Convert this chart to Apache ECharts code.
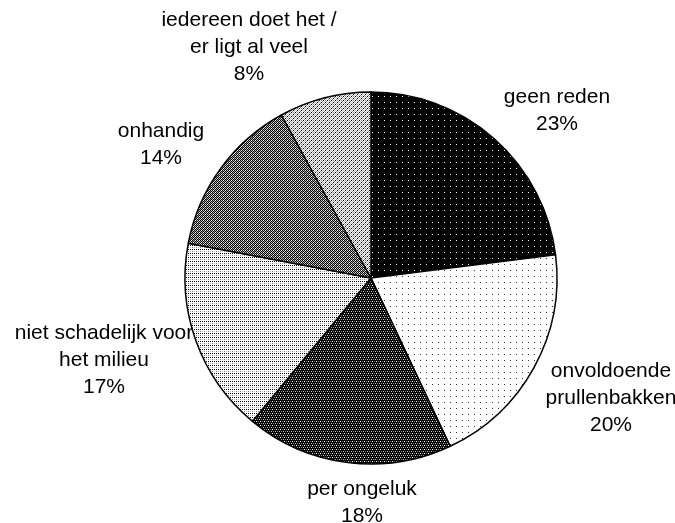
<!DOCTYPE html>
<html><head><meta charset="utf-8">
<script src="https://cdn.jsdelivr.net/npm/echarts@6/dist/echarts.min.js"></script>
<style>html,body{margin:0;padding:0;background:#fff}#c{width:675px;height:523px}</style>
</head><body><div id="c"></div>
<script>
const categories = ['geen reden', 'onvoldoende\nprullenbakken', 'per ongeluk', 'niet schadelijk voor\nhet milieu', 'onhandig', 'iedereen doet het /\ner ligt al veel'];
const values = [23, 20, 18, 17, 14, 8];

// label anchor positions (style, not data)
const labelPos = [[557, 111], [611, 398], [362, 503], [104, 360], [161, 145], [249, 47]];

function pattern(rows, palette) {
  const h = rows.length, w = rows[0].length;
  const cv = document.createElement('canvas');
  cv.width = w; cv.height = h;
  const ctx = cv.getContext('2d');
  for (let y = 0; y < h; y++) for (let x = 0; x < w; x++) {
    ctx.fillStyle = palette[rows[y][x]];
    ctx.fillRect(x, y, 1, 1);
  }
  return { image: cv, repeat: 'repeat' };
}
const pal = { K: '#000000', W: '#ffffff', G: '#808080', L: '#c0c0c0', D: '#303030' };
const patterns = [
  pattern(['WKKKKK', 'KKKKKK', 'KKKKKK', 'KKKKKK', 'KKKKKK', 'KKKKKK'], pal),
  pattern(['DWWWWW', 'WWWWWW', 'WWWWWW', 'WWWWWW', 'WWWWWW', 'WWWWWW'], pal),
  pattern(['KKKK', 'WKGK', 'KKKK', 'KGKL'], pal),
  pattern(['WWWW', 'KWKW', 'WWWW', 'GWLW'], pal),
  pattern(['KLKW', 'GKLK', 'KWKL', 'LKGK'], pal),
  pattern(['WGWK', 'LWGW', 'WKWL', 'GWLW'], pal)
];

const chart = echarts.init(document.getElementById('c'), null, { renderer: 'canvas' });
chart.setOption({
  animation: false,
  backgroundColor: '#ffffff',
  series: [{
    type: 'pie',
    center: [371, 278],
    radius: 186,
    startAngle: 90,
    clockwise: true,
    data: categories.map((c, i) => ({
      name: c, value: values[i],
      itemStyle: { color: patterns[i] }
    })),
    itemStyle: { borderColor: '#000', borderWidth: 1.5 },
    label: {
      show: true,
      position: 'outside',
      formatter: p => p.name + '\n' + p.value + '%',
      fontFamily: 'Liberation Sans, Arial, sans-serif',
      fontSize: 21,
      lineHeight: 27,
      color: '#000',
      align: 'center',
      overflow: 'none',
      width: 260
    },
    labelLine: { show: false },
    labelLayout: p => ({
      x: labelPos[p.dataIndex][0],
      y: labelPos[p.dataIndex][1],
      align: 'center',
      verticalAlign: 'middle'
    }),
    emphasis: { disabled: true }
  }]
});
</script></body></html>
